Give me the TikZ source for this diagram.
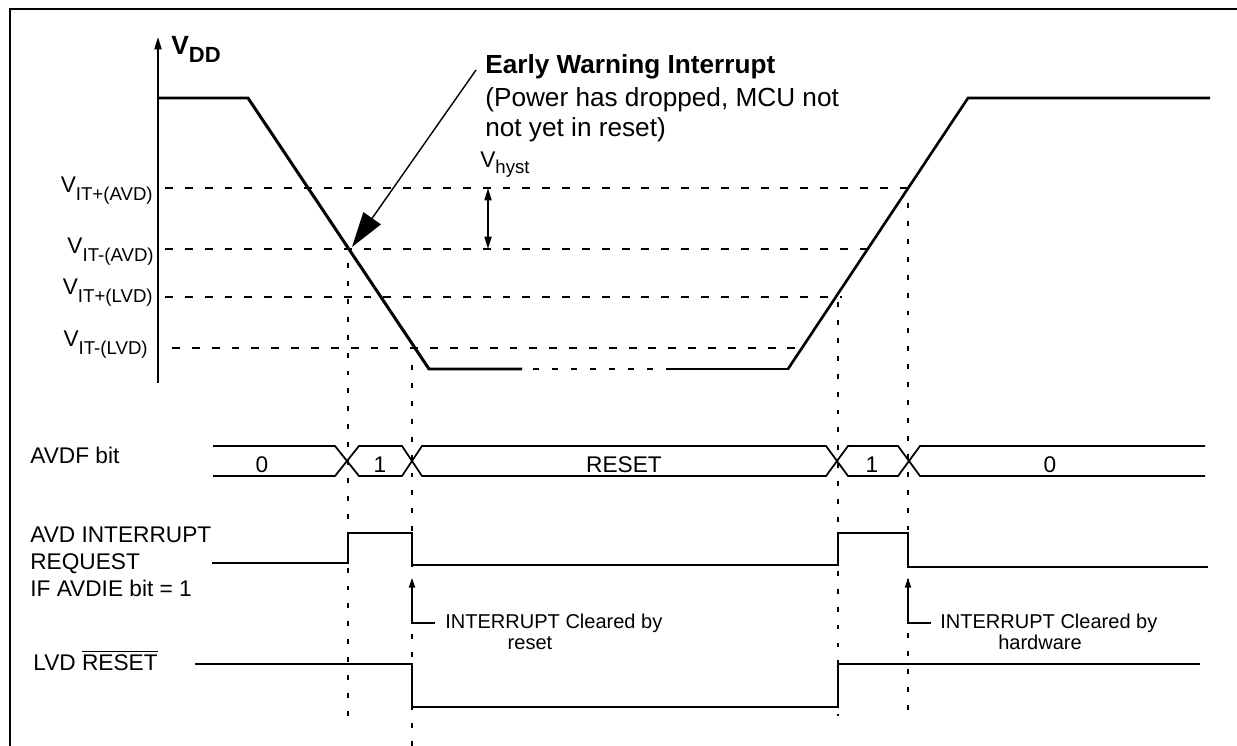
\documentclass[tikz,border=0pt]{standalone}
\usepackage{fontspec}
\setmainfont{Liberation Sans}
\usetikzlibrary{arrows.meta}
\newcommand{\lsub}[1]{\raisebox{-4pt}{\fontsize{10.6}{12}\selectfont #1}}
\begin{document}
\begin{tikzpicture}[x=0.02cm,y=-0.02cm,
  wave/.style={line width=1.7pt, line join=miter},
  sig/.style={line width=1pt},
  hdash/.style={line width=0.9pt, dash pattern=on 4.5pt off 6.8pt},
  vdash/.style={line width=0.9pt, dash pattern=on 2.8pt off 7.4pt},
  lbl/.style={inner sep=0pt, font=\fontsize{12.9}{15}\selectfont},
  sml/.style={inner sep=0pt, font=\fontsize{11.4}{13}\selectfont},
  big/.style={inner sep=0pt, font=\fontsize{14.9}{17}\selectfont}]
\useasboundingbox (0,0) rectangle (1237,746);
% frame
\draw[line width=1.1pt] (10,746) -- (10,9) -- (1237,9);
% axis
\draw[line width=1.1pt, -{Triangle[length=7pt,width=4pt]}] (158,383) -- (158,37);
\node[inner sep=0pt, anchor=base west, font=\fontsize{15}{17}\bfseries] (vdd) at (171,55) {V\raisebox{-4pt}{\fontsize{12.5}{14}\selectfont DD}};
% threshold labels
\node[lbl, anchor=base east] (la) at (153,193) {V\lsub{IT+(AVD)}};
\node[lbl, anchor=base east] (lb) at (154,254) {V\lsub{IT-(AVD)}};
\node[lbl, anchor=base east] (lc) at (153,295) {V\lsub{IT+(LVD)}};
\node[lbl, anchor=base east] (ld) at (148,347) {V\lsub{IT-(LVD)}};
% dashed thresholds
\draw[hdash] (165,188) -- (908,188);
\draw[hdash] (165,249) -- (870,249);
\draw[hdash] (165,297) -- (842,297);
\draw[hdash] (172,348) -- (800,348);
% VDD waveform
\draw[wave] (158,98) -- (248,98) -- (429,369) -- (522,369);
\draw[line width=1.7pt, dash pattern=on 3.4pt off 7.4pt] (533,369) -- (672,369);
\draw[line width=1.1pt] (670,369) -- (789,369);
\draw[line width=1.5pt, line join=miter] (788,369) -- (968,98) -- (1210,98);
% early warning
\node[big, anchor=base west, font=\fontsize{14.9}{17}\bfseries] (ew1) at (485,74) {Early Warning Interrupt};
\node[big, anchor=base west] (ew2) at (485,107) {(Power has dropped, MCU not};
\node[big, anchor=base west] (ew3) at (485,137) {not yet in reset)};
\coordinate (ewtip) at (352,247);
\draw[line width=0.8pt, -{Triangle[length=20pt,width=12pt]}] (476,70) -- (ewtip);
% hysteresis
\node[lbl, anchor=base west] (vh) at (480,168) {V\raisebox{-3.4pt}{\fontsize{10.6}{12}\selectfont hyst}};
\draw[line width=0.9pt, {Triangle[length=7pt,width=4pt]}-{Triangle[length=7pt,width=4pt]}] (488,188) -- (488,249);
% vertical dashed
\draw[vdash] (348,263) -- (348,716);
\draw[vdash] (412,365) -- (412,746);
\draw[vdash] (838,302) -- (838,716);
\draw[vdash] (908,203) -- (908,716);
% AVDF bus
\node[lbl, anchor=base west] (avdf) at (30,463) {AVDF bit};
\draw[sig] (213,446) -- (335,446) -- (359,476) -- (402,476) -- (422,446) -- (826,446) -- (848,476) -- (898,476) -- (920,446) -- (1205,446);
\draw[sig] (213,476) -- (335,476) -- (359,446) -- (402,446) -- (422,476) -- (826,476) -- (848,446) -- (898,446) -- (920,476) -- (1205,476);
\node[lbl, anchor=base] (b0) at (262,472) {0};
\node[lbl, anchor=base] (b1) at (380,472) {1};
\node[lbl, anchor=base] (br) at (624,472) {RESET};
\node[lbl, anchor=base] (b2) at (872,472) {1};
\node[lbl, anchor=base] (b3) at (1050,472) {0};
% interrupt request
\node[lbl, anchor=base west] (ir1) at (30,542) {AVD INTERRUPT};
\node[lbl, anchor=base west] (ir2) at (30,569) {REQUEST};
\node[lbl, anchor=base west] (ir3) at (30,596) {IF AVDIE bit = 1};
\draw[sig] (212,563) -- (348,563) -- (348,533) -- (412,533) -- (412,565) -- (838,565) -- (838,533) -- (908,533) -- (908,567) -- (1208,567);
% cleared arrows
\draw[line width=0.9pt, -{Triangle[length=5.5pt,width=3.5pt]}] (435,623) -- (412,623) -- (412,578);
\node[sml, anchor=base west] (c1) at (445,628) {INTERRUPT Cleared by};
\node[sml, anchor=base] (c1b) at (530,649) {reset};
\draw[line width=0.9pt, -{Triangle[length=5.5pt,width=3.5pt]}] (931,623) -- (908,623) -- (908,578);
\node[sml, anchor=base west] (c2) at (940,628) {INTERRUPT Cleared by};
\node[sml, anchor=base] (c2b) at (1040,649) {hardware};
% LVD reset
\node[lbl, anchor=base west] (lvd) at (33,670) {LVD $\overline{\mbox{RESET}}$};
\draw[sig] (195,664) -- (412,664) -- (412,707) -- (838,707) -- (838,664) -- (1200,664);
\end{tikzpicture}
\end{document}
